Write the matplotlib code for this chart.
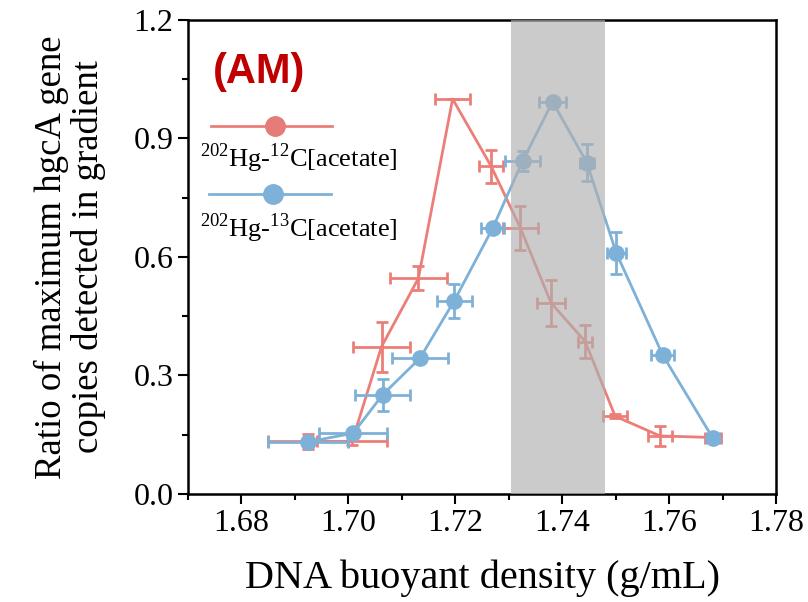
import matplotlib
matplotlib.use("Agg")
import matplotlib.pyplot as plt
from matplotlib.lines import Line2D
from matplotlib.ticker import MultipleLocator

plt.rcParams['font.family'] = ['Liberation Serif', 'DejaVu Serif']
plt.rcParams['mathtext.fontset'] = 'custom'
plt.rcParams['mathtext.rm'] = 'Liberation Serif'

# 202Hg-12C[acetate]
x12 = [1.6925, 1.7007, 1.7062, 1.7131, 1.7195, 1.7267, 1.7322, 1.7379, 1.7443, 1.7499, 1.7583, 1.7682]
y12 = [0.133, 0.133, 0.373, 0.546, 1.0, 0.830, 0.673, 0.484, 0.386, 0.197, 0.147, 0.143]
xerr12 = [0.0075, 0.0065, 0.0054, 0.0053, 0.0033, 0.0023, 0.0033, 0.0026, 0.0013, 0.0022, 0.0022, 0.0015]
yerr12 = [0.02, 0.01, 0.063, 0.03, 0.0, 0.042, 0.055, 0.059, 0.042, 0.005, 0.025, 0.008]

# 202Hg-13C[acetate]
x13 = [1.6925, 1.7009, 1.7064, 1.7134, 1.7198, 1.7270, 1.7326, 1.7382, 1.7446, 1.7501, 1.7588, 1.7682]
y13 = [0.132, 0.154, 0.251, 0.344, 0.489, 0.673, 0.843, 0.993, 0.839, 0.611, 0.352, 0.141]
xerr13 = [0.0075, 0.0064, 0.0052, 0.0052, 0.0033, 0.0021, 0.0033, 0.0026, 0.0013, 0.0018, 0.0022, 0.0012]
yerr13 = [0.008, 0.008, 0.041, 0.008, 0.043, 0.01, 0.026, 0.0, 0.046, 0.053, 0.012, 0.008]

band = (1.7305, 1.748)

red = '#EC7E79'
blue = '#7EB1D8'

fig = plt.figure(figsize=(8.08, 6.02), dpi=100)
ax = fig.add_axes([0.2327, 0.1794, 0.7277, 0.7874])

ax.errorbar(x12, y12, xerr=xerr12, yerr=yerr12, color=red, lw=2, elinewidth=2,
            capsize=4, capthick=2, zorder=2)
ax.errorbar(x13, y13, xerr=xerr13, yerr=yerr13, color=blue, lw=2, elinewidth=2,
            capsize=4, capthick=2, marker='o', ms=11, zorder=3)
ax.axvspan(band[0], band[1], color='#b0b0b0', alpha=0.65, lw=0, zorder=4)

ax.set_xlim(1.67, 1.78)
ax.set_ylim(0, 1.2)
ax.xaxis.set_major_locator(MultipleLocator(0.02))
ax.xaxis.set_minor_locator(MultipleLocator(0.01))
ax.yaxis.set_major_locator(MultipleLocator(0.3))
ax.yaxis.set_minor_locator(MultipleLocator(0.15))
ax.xaxis.set_major_formatter(plt.FormatStrFormatter('%.2f'))
ax.yaxis.set_major_formatter(plt.FormatStrFormatter('%.1f'))
ax.tick_params(which='major', direction='out', length=7, width=1.5, labelsize=23)
ax.tick_params(which='minor', direction='out', length=4, width=1.5)
for s in ax.spines.values():
    s.set_linewidth(1.8)

ax.set_xlabel('DNA buoyant density (g/mL)', fontsize=29, labelpad=16)
ax.set_ylabel('Ratio of maximum hgcA gene\ncopies detected in gradient', fontsize=26.5,
              labelpad=20, linespacing=1.05)

# legend drawn by hand: line above label
ax.text(0.0425, 0.89, '(AM)', transform=ax.transAxes, color='#C00000', fontsize=30,
        fontweight='bold', family='Liberation Sans', va='center', ha='left')
ax.add_line(Line2D([0.039, 0.245], [0.776, 0.776], transform=ax.transAxes, color=red, lw=2))
ax.add_line(Line2D([0.148], [0.776], transform=ax.transAxes, color='#E57C7A', marker='o', ms=14))
ax.text(0.02, 0.709, r'$^{202}$Hg-$^{12}$C[acetate]', transform=ax.transAxes, fontsize=19,
        va='center', ha='left')
ax.add_line(Line2D([0.036, 0.243], [0.633, 0.633], transform=ax.transAxes, color=blue, lw=2))
ax.add_line(Line2D([0.145], [0.633], transform=ax.transAxes, color=blue, marker='o', ms=14))
ax.text(0.02, 0.561, r'$^{202}$Hg-$^{13}$C[acetate]', transform=ax.transAxes, fontsize=19,
        va='center', ha='left')

fig.savefig('out.png', dpi=100)
